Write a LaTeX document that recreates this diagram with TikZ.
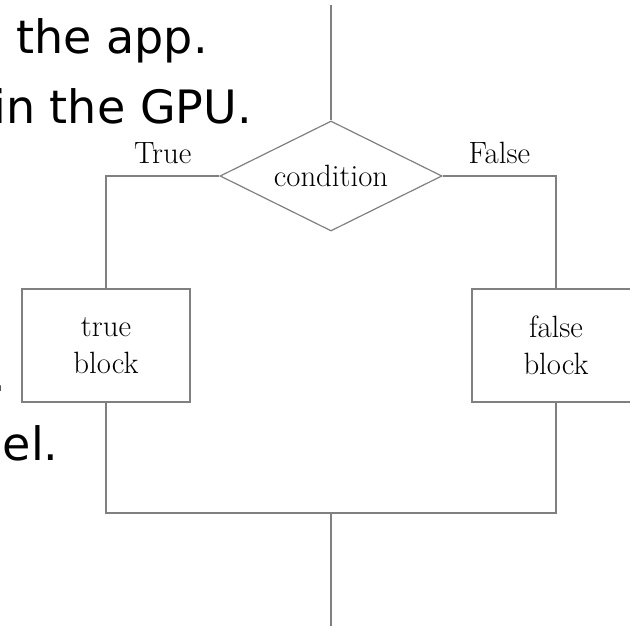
\documentclass[tikz,border=0pt]{standalone}
\usepackage{fontspec}
\newfontfamily\slidefont{DejaVu Sans}
\usetikzlibrary{shapes.geometric}
\begin{document}
\begin{tikzpicture}[x=0.5pt,y=-0.5pt,
  flow/.style={draw=black!50, line width=0.6pt},
  cmfont/.style={font=\fontsize{15.4}{18.5}\selectfont},
  lbl/.style={cmfont, inner sep=0pt},
  blockbox/.style={rectangle, flow, cmfont, align=center, inner sep=0pt,
    minimum width=84pt, minimum height=56.5pt},
  decision/.style={diamond, flow, cmfont, aspect=2, inner sep=0pt,
    minimum width=111pt, minimum height=55pt},
  slide/.style={font=\slidefont\fontsize{23}{27}\selectfont, inner sep=0pt,
    anchor=base west}]
\useasboundingbox (0,0) rectangle (630,626);

% fragments of slide text on the left
\node[slide] (s1) at (16,54) {the app.};
\node[slide] (s2) at (-7,123) {in the GPU.};
\node[slide] (s3) at (-9,391) {.};
\node[slide] (s4) at (2.5,460) {el.};

% if/else flowchart
\node[decision] (cond) at (331,176) {condition};
\node[blockbox] (tb) at (106,345.5) {true\\block};
\node[blockbox] (fb) at (556,345.5) {false\\block};

\coordinate (top) at (331,5);
\coordinate (join) at (331,513);
\coordinate (bot) at (331,626);

\draw[flow] (top) -- (cond.north);
\draw[flow] (cond.west) -- node[lbl, above=6pt] {True} (cond.west -| tb.north) -- (tb.north);
\draw[flow] (cond.east) -- node[lbl, above=6pt] {False} (cond.east -| fb.north) -- (fb.north);
\draw[flow] (tb.south) |- (join) -| (fb.south);
\draw[flow] (join) -- (bot);
\end{tikzpicture}
\end{document}
